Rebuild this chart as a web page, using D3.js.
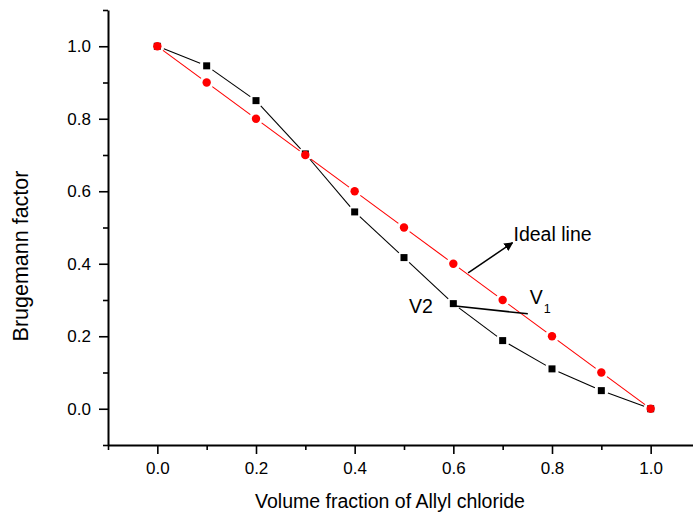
<!DOCTYPE html>
<html><head><meta charset="utf-8">
<script src="https://cdn.jsdelivr.net/npm/d3@7"></script>
<style>
body{margin:0;background:#fff;}
svg{display:block;font-family:Arial,"Liberation Sans",sans-serif;}
</style></head>
<body>
<svg id="c" width="693" height="516"></svg>
<script>
const xValues = [0.0,0.1,0.2,0.3,0.4,0.5,0.6,0.7,0.8,0.9,1.0];
const v2Values = [1.0,0.946,0.85,0.703,0.543,0.417,0.29,0.188,0.11,0.05,0.0];
const idealValues = [1.0,0.9,0.8,0.7,0.6,0.5,0.4,0.3,0.2,0.1,0.0];
const majorTicks = [0.0,0.2,0.4,0.6,0.8,1.0];
const minorTicks = [-0.1,0.1,0.3,0.5,0.7,0.9,1.1];
const xTitle = "Volume fraction of Allyl chloride";
const yTitle = "Brugemann factor";

const svg = d3.select("#c");
const x = d3.scaleLinear().domain([-0.1,1.1]).range([108,700]);
const y = d3.scaleLinear().domain([-0.1,1.1]).range([445,10]);
const fmt = d3.format(".1f");

// axes
svg.append("g").attr("transform","translate(0,445)")
  .call(d3.axisBottom(x).tickValues(majorTicks).tickFormat(fmt).tickSize(9).tickSizeOuter(0).tickPadding(8));
svg.append("g").attr("transform","translate(0,445)")
  .call(d3.axisBottom(x).tickValues(minorTicks).tickFormat("").tickSize(5).tickSizeOuter(0))
  .select(".domain").remove();
svg.append("g").attr("transform","translate(108,0)")
  .call(d3.axisLeft(y).tickValues(majorTicks).tickFormat(fmt).tickSize(9).tickSizeOuter(0).tickPadding(8));
svg.append("g").attr("transform","translate(108,0)")
  .call(d3.axisLeft(y).tickValues(minorTicks).tickFormat("").tickSize(5).tickSizeOuter(0))
  .select(".domain").remove();
svg.selectAll(".domain").attr("stroke","#000").attr("stroke-width",2);
svg.selectAll(".tick line").attr("stroke","#000").attr("stroke-width",1.6);
svg.selectAll(".tick text").attr("font-size",17).attr("fill","#000").attr("font-family","Arial, 'Liberation Sans', sans-serif");

// titles
svg.append("text").attr("x",390).attr("y",508).attr("text-anchor","middle")
  .attr("font-size",19.5).text(xTitle);
svg.append("text").attr("transform","translate(28,256) rotate(-90)").attr("text-anchor","middle")
  .attr("font-size",21.5).text(yTitle);

// gapped line segments
function gapLines(vals, color){
  const pts = xValues.map((d,i)=>[x(d), y(vals[i])]);
  const gap = 7;
  const segs = [];
  for(let i=0;i<pts.length-1;i++){
    const [x1,y1]=pts[i],[x2,y2]=pts[i+1];
    const dx=x2-x1, dy=y2-y1, L=Math.hypot(dx,dy);
    if(L<=2*gap) continue;
    const ux=dx/L, uy=dy/L;
    segs.push([x1+ux*gap,y1+uy*gap,x2-ux*gap,y2-uy*gap]);
  }
  svg.append("g").selectAll("line").data(segs).join("line")
    .attr("x1",d=>d[0]).attr("y1",d=>d[1]).attr("x2",d=>d[2]).attr("y2",d=>d[3])
    .attr("stroke",color).attr("stroke-width",1.1);
}
gapLines(v2Values,"#000");
gapLines(idealValues,"#ff0000");

svg.append("g").selectAll("rect").data(xValues).join("rect")
  .attr("x",(d)=>x(d)-3.5).attr("y",(d,i)=>y(v2Values[i])-3.5)
  .attr("width",7).attr("height",7).attr("fill","#000");
svg.append("g").selectAll("circle").data(xValues).join("circle")
  .attr("cx",d=>x(d)).attr("cy",(d,i)=>y(idealValues[i])).attr("r",4.2).attr("fill","#ff0000");

// annotations
const defs = svg.append("defs");
defs.append("marker").attr("id","ah").attr("viewBox","0 0 10 10").attr("refX",9).attr("refY",5)
  .attr("markerWidth",9).attr("markerHeight",9).attr("orient","auto").attr("markerUnits","userSpaceOnUse")
  .append("path").attr("d","M0,0 L10,5 L0,10 z").attr("fill","#000");
svg.append("line").attr("x1",x(0.63)).attr("y1",y(0.375)).attr("x2",x(0.72)).attr("y2",y(0.458))
  .attr("stroke","#000").attr("stroke-width",1.5).attr("marker-end","url(#ah)");
svg.append("text").attr("x",x(0.722)).attr("y",y(0.464)).attr("font-size",19.5).text("Ideal line");

svg.append("text").attr("x",x(0.51)).attr("y",y(0.265)).attr("font-size",19.5).text("V2");
const v1 = svg.append("text").attr("x",x(0.755)).attr("y",y(0.290)).attr("font-size",19.5);
v1.append("tspan").text("V");
v1.append("tspan").attr("font-size",12.5).attr("dy",9).attr("dx",1).text("1");
svg.append("line").attr("x1",x(0.599)).attr("y1",y(0.284)).attr("x2",x(0.751)).attr("y2",y(0.262))
  .attr("stroke","#000").attr("stroke-width",1.5);
</script>
</body></html>
